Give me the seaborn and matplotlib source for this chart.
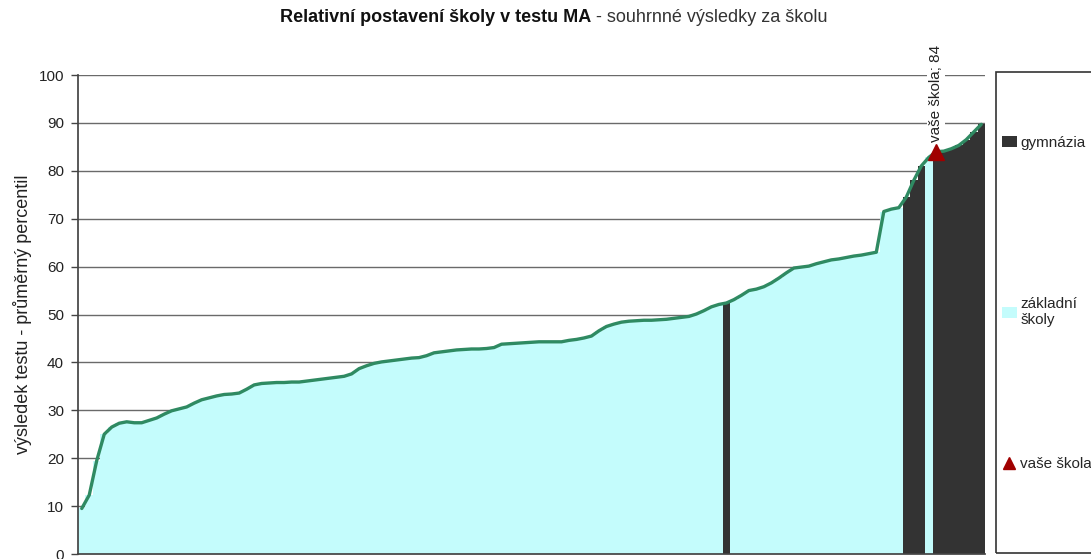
import numpy as np
import pandas as pd
import matplotlib
matplotlib.use("Agg")
import matplotlib.pyplot as plt
import seaborn as sns
from matplotlib.patches import Patch, Rectangle
from matplotlib.lines import Line2D

# ---------------- data ----------------
school_results = [
    9.5, 12.3, 19.5, 25.0, 26.5, 27.3, 27.6, 27.4, 27.4, 27.9,
    28.4, 29.2, 29.9, 30.3, 30.7, 31.5, 32.2, 32.6, 33.0, 33.3,
    33.4, 33.6, 34.4, 35.3, 35.6, 35.7, 35.8, 35.8, 35.9, 35.9,
    36.1, 36.3, 36.5, 36.7, 36.9, 37.1, 37.6, 38.7, 39.3, 39.8,
    40.1, 40.3, 40.5, 40.7, 40.9, 41.0, 41.4, 42.0, 42.2, 42.4,
    42.6, 42.7, 42.8, 42.8, 42.9, 43.1, 43.8, 43.9, 44.0, 44.1,
    44.2, 44.3, 44.3, 44.3, 44.3, 44.6, 44.8, 45.1, 45.5, 46.6,
    47.5, 48.0, 48.4, 48.6, 48.7, 48.8, 48.8, 48.9, 49.0, 49.2,
    49.4, 49.6, 50.1, 50.8, 51.6, 52.1, 52.4, 53.1, 54.0, 55.0,
    55.3, 55.8, 56.6, 57.6, 58.7, 59.7, 59.9, 60.1, 60.6, 61.0,
    61.4, 61.6, 61.9, 62.2, 62.4, 62.7, 63.0, 71.5, 72.0, 72.3,
    74.5, 78.0, 81.0, 82.8, 84.0, 84.1, 84.6, 85.3, 86.5, 88.1,
    89.7,
]
gymnazia_ranks = [86, 110, 111, 112, 114, 115, 116, 117, 118, 119, 120]
your_school_rank = 114
your_school_value = 84
legend_labels = ["gymnázia", "základní\nškoly", "vaše škola"]
y_ticks = [0, 10, 20, 30, 40, 50, 60, 70, 80, 90, 100]
title_bold = "Relativní postavení školy v testu MA"
title_rest = " - souhrnné výsledky za školu"
y_label = "výsledek testu - průměrný percentil"
annotation = "vaše škola; 84"

# colours
c_zs = "#c4fcfc"
c_gym = "#333333"
c_line = "#2f8a62"
c_you = "#a00000"

n = len(school_results)
ranks = list(range(n))
types = ["gymnázia" if r in gymnazia_ranks else "základní školy" for r in ranks]
df = pd.DataFrame({"rank": ranks, "value": school_results, "typ": types})

sns.set_theme(style="white")
plt.rcParams["font.family"] = ["Liberation Sans", "DejaVu Sans"]

W, H = 1091, 559
fig = plt.figure(figsize=(W / 100, H / 100), dpi=100)
ax = fig.add_axes([78 / W, 1 - 554 / H, (985 - 78) / W, (554 - 75) / H])

sns.barplot(data=df, x="rank", y="value", hue="typ",
            palette={"gymnázia": c_gym, "základní školy": c_zs},
            saturation=1, dodge=False, width=1.0, linewidth=0,
            legend=False, ax=ax, order=ranks)
sns.lineplot(x=ranks, y=school_results, color=c_line, lw=2.4, ax=ax, zorder=3)
ax.plot([your_school_rank], [your_school_value], marker="^", ms=11,
        color=c_you, ls="none", zorder=4, clip_on=False)
ax.annotate(annotation, xy=(your_school_rank, your_school_value),
            xytext=(0, 7), textcoords="offset points", rotation=90,
            ha="center", va="bottom", fontsize=11, color="#222222",
            bbox=dict(fc="white", ec="none", pad=1.5), annotation_clip=False,
            zorder=5)

ax.set_xlim(-0.5, n - 0.5)
ax.set_ylim(0, 100)
ax.set_yticks(y_ticks)
ax.set_xticks([])
ax.set_xlabel("")
ax.set_ylabel(y_label, fontsize=13, color="#222222")
ax.yaxis.set_label_coords(-(78 - 32) / 907, 0.5)
ax.tick_params(axis="y", direction="out", length=5, width=1, color="#444444",
               labelsize=11, labelcolor="#222222", pad=5, left=True)
ax.yaxis.grid(True, color="#6a6a6a", lw=1)
ax.set_axisbelow(True)
for s in ["top", "right"]:
    ax.spines[s].set_visible(False)
ax.spines["left"].set_color("#444444")
ax.spines["bottom"].set_color("#444444")

# title (bold + normal parts)
split_x = 591 / W
fig.text(split_x, 1 - 17 / H, title_bold, ha="right", va="center",
         fontsize=13, fontweight="bold", color="#111111")
fig.text(split_x, 1 - 17 / H, title_rest, ha="left", va="center",
         fontsize=13, color="#333333")

# legend box
fig.patches.append(Rectangle((996 / W, 1 - 553 / H), 0.2, (553 - 72) / H,
                             transform=fig.transFigure, fill=False,
                             ec="#333333", lw=1.2))
handles = [
    Patch(fc=c_gym, ec="none"),
    Patch(fc=c_zs, ec="none"),
    Line2D([], [], marker="^", color=c_you, ls="none", ms=9),
]
ys = [143, 312, 464]
for h, lab, yy in zip(handles, legend_labels, ys):
    fig.legend([h], [lab], loc="center left",
               bbox_to_anchor=(1002 / W, 1 - yy / H), frameon=False,
               fontsize=11, handlelength=0.95, handleheight=0.75,
               handletextpad=0.25, borderpad=0, borderaxespad=0)

fig.savefig("out.png", dpi=100)
